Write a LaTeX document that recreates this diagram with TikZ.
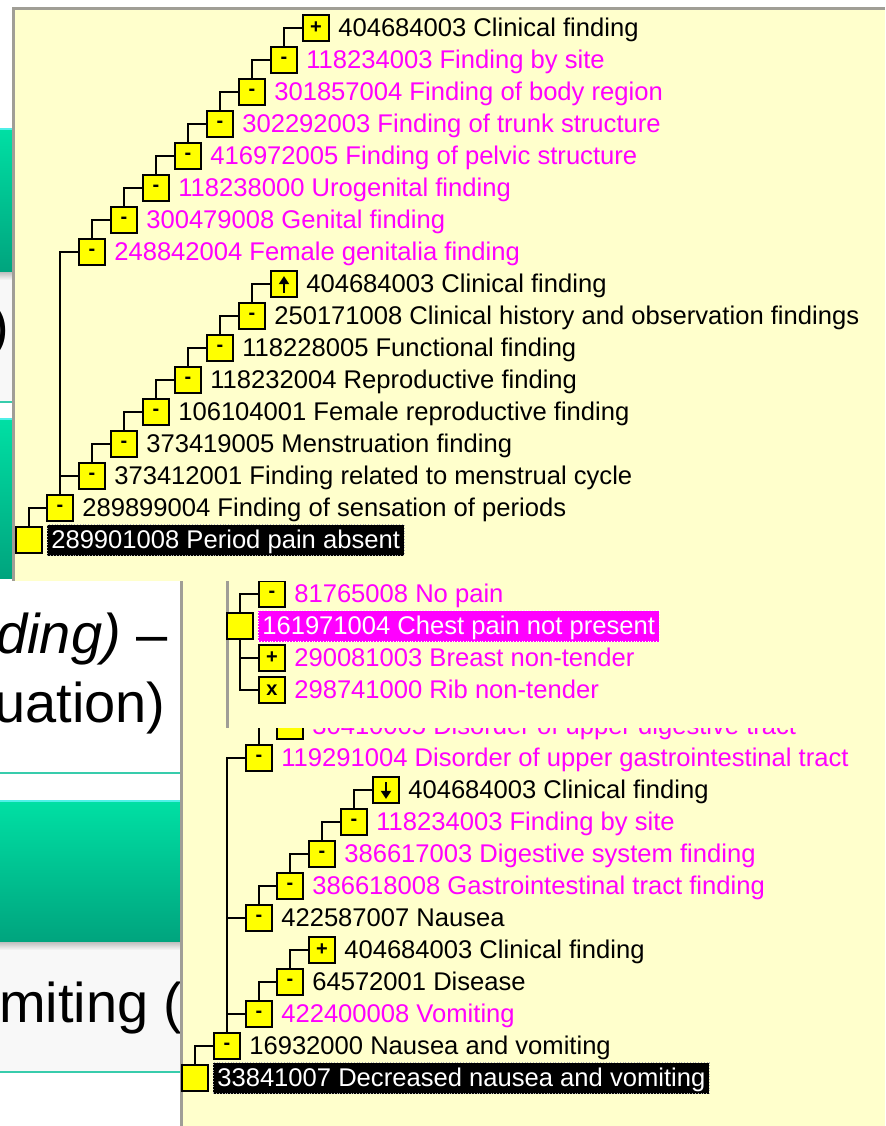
\documentclass[tikz,border=0pt]{standalone}
\usepackage{fontspec}
\setmainfont{Liberation Sans}
\usepackage{tikz}
\usetikzlibrary{arrows.meta}
\definecolor{panelbg}{HTML}{FFFFCC}
\definecolor{boxfill}{HTML}{FFFF00}
\definecolor{snopink}{HTML}{FF00FF}
\definecolor{paneledge}{HTML}{A09E96}
\definecolor{bartop}{HTML}{00E0A4}
\definecolor{barbottom}{HTML}{00A47E}
\definecolor{barlight}{HTML}{50F0E8}
\definecolor{slideline}{HTML}{38CCAC}
\definecolor{offwhite}{HTML}{F8F8F8}
\tikzset{
  sbox/.style={draw=black,line width=0.9pt,fill=boxfill,minimum size=13pt,inner sep=0pt,
    font=\fontsize{10pt}{10pt}\selectfont\bfseries},
  lbl/.style={anchor=west,xshift=2pt,inner xsep=2pt,inner ysep=1pt,text height=11pt,text depth=2.5pt,
    font=\fontsize{12.8pt}{14pt}\selectfont},
  pk/.style={lbl,text=snopink},
  sel/.style={lbl,fill=black,text=white,draw=white!70!black,densely dotted,line width=0.4pt},
  selpk/.style={lbl,fill=snopink,text=white,draw=white,densely dotted,line width=0.4pt},
  link/.style={line width=0.7pt},
  greenbar/.style={top color=bartop,bottom color=barbottom},
  slidetxt/.style={anchor=base east,inner sep=0pt,font=\fontsize{28pt}{32pt}\selectfont},
  edgeline/.style={paneledge,line width=1.5pt},
  updown/.style={-{Triangle[length=4pt,width=5pt]},line width=1.2pt}
}
\begin{document}
\begin{tikzpicture}[x=0.5pt,y=-0.5pt]
\useasboundingbox (0,0) rectangle (885,1126);
\clip (0,0) rectangle (885,1126);
\fill[white] (0,0) rectangle (885,1126);

\fill[offwhite] (0,272) rectangle (14,402);
\fill[offwhite] (0,942) rectangle (180,1072);
\shade[greenbar] (0,128) rectangle (14,272);
\shade[greenbar] (0,418) rectangle (14,578);
\shade[greenbar] (0,800) rectangle (180,942);
\draw[barlight,line width=1.2pt] (0,129) -- (14,129);
\draw[barlight,line width=1.2pt] (0,419) -- (14,419);
\draw[barlight,line width=1.2pt] (0,801) -- (180,801);
\shade[top color=black!25,bottom color=offwhite] (0,942) rectangle (180,950);
\shade[top color=black!25,bottom color=offwhite] (0,272) rectangle (14,280);
\draw[slideline,line width=1pt] (0,402) -- (14,402);
\draw[slideline,line width=1pt] (0,773) -- (180,773);
\draw[slideline,line width=1pt] (0,1072) -- (180,1072);
\node[slidetxt] (paren) at (10,345) {)};
\node[slidetxt] (line1) at (168,653) {\textit{ding)} –};
\node[slidetxt] (line2) at (166,722) {uation)};
\node[slidetxt] (line3) at (183,1022) {miting (};

\fill[panelbg] (180,581) rectangle (885,1126);
\draw[edgeline] (181,581) -- (181,1126);
\node[sbox] (c304) at (290,726) {-};
\node[pk] (c304t) at (c304.east) {30410005 Disorder of upper digestive tract};
\node[sbox] (c119) at (259,758) {-};
\node[pk] (c119t) at (c119.east) {119291004 Disorder of upper gastrointestinal tract};
\node[sbox] (c404) at (386,790) {};
\draw[updown] ([yshift=-3pt]c404.north) -- ([yshift=2.5pt]c404.south);
\node[lbl] (c404t) at (c404.east) {404684003 Clinical finding};
\node[sbox] (c118) at (354,822) {-};
\node[pk] (c118t) at (c118.east) {118234003 Finding by site};
\node[sbox] (c3866) at (322,854) {-};
\node[pk] (c3866t) at (c3866.east) {386617003 Digestive system finding};
\node[sbox] (c3868) at (290,886) {-};
\node[pk] (c3868t) at (c3868.east) {386618008 Gastrointestinal tract finding};
\node[sbox] (c4225) at (259,918) {-};
\node[lbl] (c4225t) at (c4225.east) {422587007 Nausea};
\node[sbox] (c404b) at (322,950) {+};
\node[lbl] (c404bt) at (c404b.east) {404684003 Clinical finding};
\node[sbox] (c645) at (290,982) {-};
\node[lbl] (c645t) at (c645.east) {64572001 Disease};
\node[sbox] (c4224) at (259,1014) {-};
\node[pk] (c4224t) at (c4224.east) {422400008 Vomiting};
\node[sbox] (c169) at (227,1046) {-};
\node[lbl] (c169t) at (c169.east) {16932000 Nausea and vomiting};
\node[sbox] (c338) at (195,1078) {};
\node[sel] (c338t) at (c338.east) {33841007 Decreased nausea and vomiting};
\draw[link] (c304.west) -| (c119.north);
\draw[link] (c119.west) -| (c169.north);
\draw[link] (c404.west) -| (c118.north);
\draw[link] (c118.west) -| (c3866.north);
\draw[link] (c3866.west) -| (c3868.north);
\draw[link] (c3868.west) -| (c4225.north);
\draw[link] (c4225.west) -| (c169.north);
\draw[link] (c404b.west) -| (c645.north);
\draw[link] (c645.west) -| (c4224.north);
\draw[link] (c4224.west) -| (c169.north);
\draw[link] (c169.west) -| (c338.north);

\fill[panelbg] (226,581) rectangle (885,728);
\draw[edgeline] (227,581) -- (227,728);
\node[sbox] (b817) at (272,594) {-};
\node[pk] (b817t) at (b817.east) {81765008 No pain};
\node[sbox] (b161) at (240,626) {};
\node[selpk] (b161t) at (b161.east) {161971004 Chest pain not present};
\node[sbox] (b290) at (272,658) {+};
\node[pk] (b290t) at (b290.east) {290081003 Breast non-tender};
\node[sbox] (b298) at (272,690) {x};
\node[pk] (b298t) at (b298.east) {298741000 Rib non-tender};
\draw[link] (b817.west) -| (b161.north);
\draw[link] (b161.south) |- (b290.west);
\draw[link] (b161.south) |- (b298.west);

\fill[panelbg] (12,8) rectangle (885,581);
\draw[edgeline] (885,8) -- (13,8) -- (13,581);
\node[sbox] (a1) at (316,28) {+};
\node[lbl] (a1t) at (a1.east) {404684003 Clinical finding};
\node[sbox] (a2) at (284,60) {-};
\node[pk] (a2t) at (a2.east) {118234003 Finding by site};
\node[sbox] (a3) at (252,92) {-};
\node[pk] (a3t) at (a3.east) {301857004 Finding of body region};
\node[sbox] (a4) at (220,124) {-};
\node[pk] (a4t) at (a4.east) {302292003 Finding of trunk structure};
\node[sbox] (a5) at (188,156) {-};
\node[pk] (a5t) at (a5.east) {416972005 Finding of pelvic structure};
\node[sbox] (a6) at (156,188) {-};
\node[pk] (a6t) at (a6.east) {118238000 Urogenital finding};
\node[sbox] (a7) at (124,220) {-};
\node[pk] (a7t) at (a7.east) {300479008 Genital finding};
\node[sbox] (a8) at (92,252) {-};
\node[pk] (a8t) at (a8.east) {248842004 Female genitalia finding};
\node[sbox] (a9) at (284,284) {};
\draw[updown] ([yshift=2.5pt]a9.south) -- ([yshift=-3pt]a9.north);
\node[lbl] (a9t) at (a9.east) {404684003 Clinical finding};
\node[sbox] (a10) at (252,316) {-};
\node[lbl] (a10t) at (a10.east) {250171008 Clinical history and observation findings};
\node[sbox] (a11) at (220,348) {-};
\node[lbl] (a11t) at (a11.east) {118228005 Functional finding};
\node[sbox] (a12) at (188,380) {-};
\node[lbl] (a12t) at (a12.east) {118232004 Reproductive finding};
\node[sbox] (a13) at (156,412) {-};
\node[lbl] (a13t) at (a13.east) {106104001 Female reproductive finding};
\node[sbox] (a14) at (124,444) {-};
\node[lbl] (a14t) at (a14.east) {373419005 Menstruation finding};
\node[sbox] (a15) at (92,476) {-};
\node[lbl] (a15t) at (a15.east) {373412001 Finding related to menstrual cycle};
\node[sbox] (a16) at (60,508) {-};
\node[lbl] (a16t) at (a16.east) {289899004 Finding of sensation of periods};
\node[sbox] (a17) at (29,540) {};
\node[sel] (a17t) at (a17.east) {289901008 Period pain absent};
\draw[link] (a1.west) -| (a2.north);
\draw[link] (a2.west) -| (a3.north);
\draw[link] (a3.west) -| (a4.north);
\draw[link] (a4.west) -| (a5.north);
\draw[link] (a5.west) -| (a6.north);
\draw[link] (a6.west) -| (a7.north);
\draw[link] (a7.west) -| (a8.north);
\draw[link] (a8.west) -| (a16.north);
\draw[link] (a9.west) -| (a10.north);
\draw[link] (a10.west) -| (a11.north);
\draw[link] (a11.west) -| (a12.north);
\draw[link] (a12.west) -| (a13.north);
\draw[link] (a13.west) -| (a14.north);
\draw[link] (a14.west) -| (a15.north);
\draw[link] (a15.west) -| (a16.north);
\draw[link] (a16.west) -| (a17.north);
\end{tikzpicture}
\end{document}
